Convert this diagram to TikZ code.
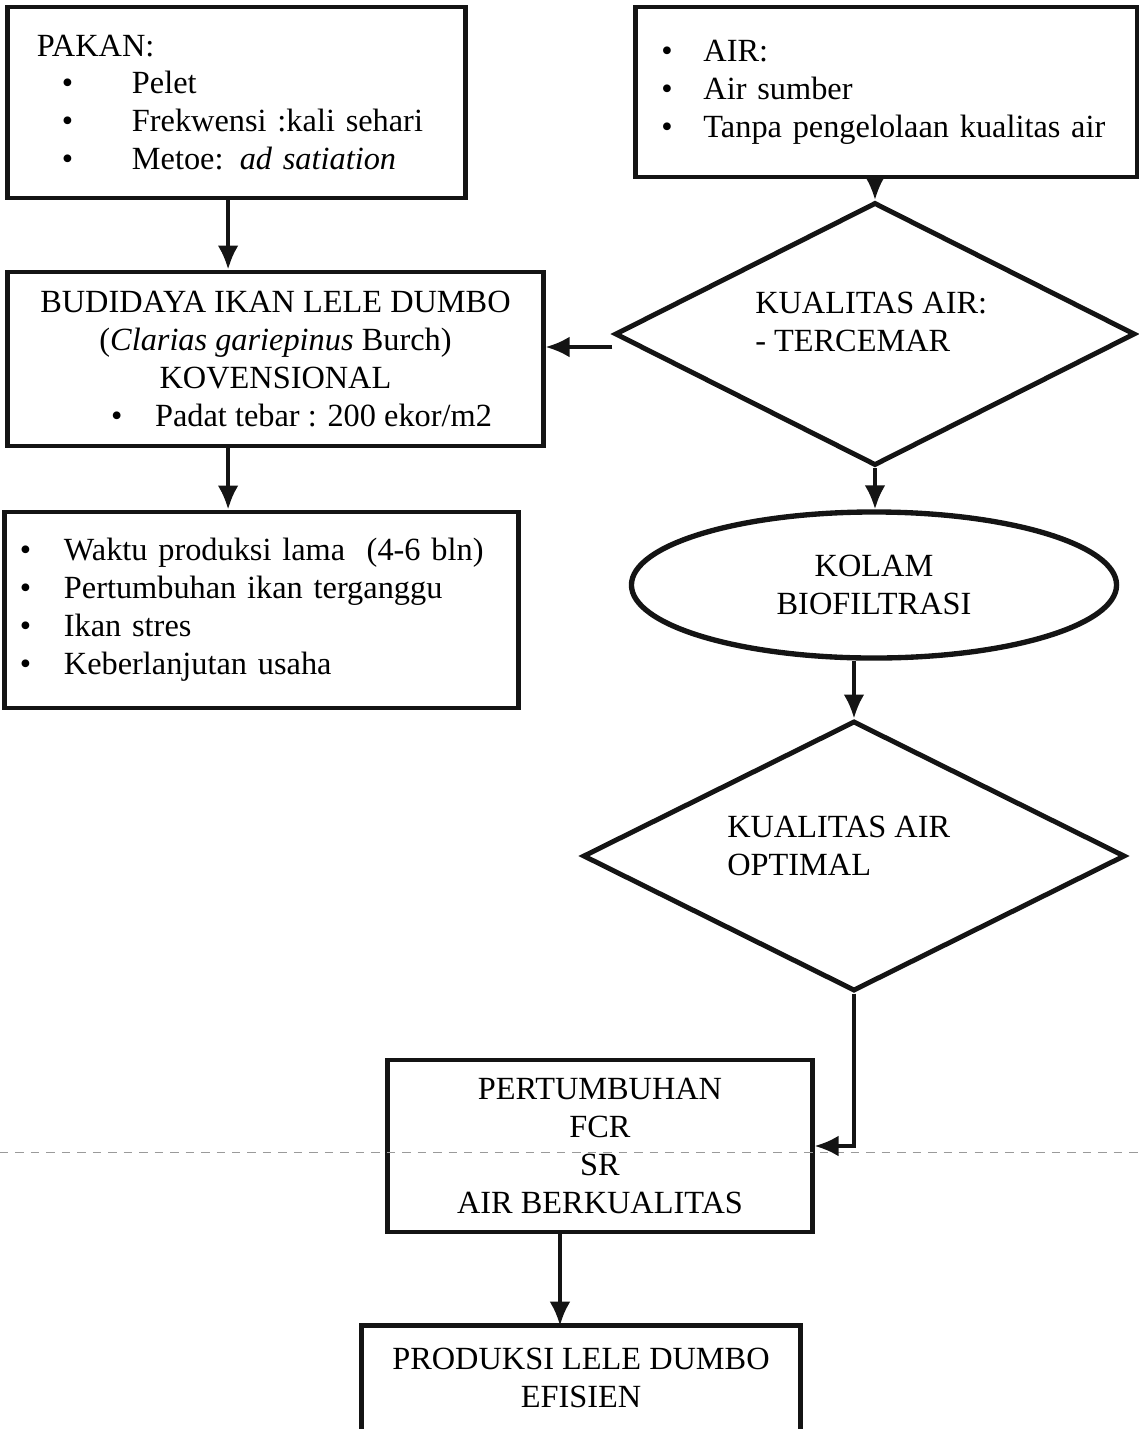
\documentclass[tikz,border=0pt]{standalone}
\usepackage{fontspec}
\setmainfont{Liberation Serif}
\usepackage{tikz}
\usepackage{xcolor}
\usetikzlibrary{positioning, shapes.geometric, arrows.meta, calc}
\definecolor{ink}{HTML}{141414}
\definecolor{scan}{HTML}{9a9a9a}

\tikzset{
  box/.style={rectangle, draw=ink, line width=3.5pt},
  decision/.style={diamond, draw=ink, line width=3.5pt},
  arr/.style={-{Latex[length=6mm, width=5.2mm]}, line width=2.6pt, draw=ink},
}

\begin{document}
\begin{tikzpicture}[x=0.025cm, y=-0.025cm, font=\fontsize{23}{27}\selectfont]
  \useasboundingbox (0,0) rectangle (1139,1429);

  \node[box, minimum width=11.425cm, minimum height=4.775cm, text width=9.975cm, align=left] (pakan) at (236.5,102.5) {PAKAN:\\\hspace*{0.625cm}\makebox[1.75cm][l]{\textbullet}Pelet\\\hspace*{0.625cm}\makebox[1.75cm][l]{\textbullet}Frekwensi :kali sehari\\\hspace*{0.625cm}\makebox[1.75cm][l]{\textbullet}Metoe: \textit{ad satiation}};
  \node[box, minimum width=12.525cm, minimum height=4.25cm, text width=11.25cm, align=left] (air) at (886.5,92) {\makebox[1.05cm][l]{\textbullet}AIR:\\\makebox[1.05cm][l]{\textbullet}Air sumber\\\makebox[1.05cm][l]{\textbullet}Tanpa pengelolaan kualitas air};

  \node[box, minimum width=13.375cm, minimum height=4.35cm, align=center] (budi) at (275.5,359) {BUDIDAYA IKAN LELE DUMBO\\(\textit{Clarias gariepinus} Burch)\\KOVENSIONAL\\\hspace*{1.3cm}\makebox[1.1cm][l]{\textbullet}Padat tebar : 200 ekor/m2};
  \node[box, minimum width=12.825cm, minimum height=4.9cm, text width=12.075cm, align=left] (eff) at (261.5,610) {\makebox[1.1cm][l]{\textbullet}Waktu produksi lama~~(4-6 bln)\\\makebox[1.1cm][l]{\textbullet}Pertumbuhan ikan terganggu\\\makebox[1.1cm][l]{\textbullet}Ikan stres\\\makebox[1.1cm][l]{\textbullet}Keberlanjutan usaha};

  \node[decision, minimum width=13cm, minimum height=6.575cm] (q1) at (875,334) {};
  \node[anchor=west, align=left, inner sep=0pt] (q1txt) at (755,321.5) {KUALITAS AIR:\\- TERCEMAR};

  \node[ellipse, draw=ink, line width=3.8pt, minimum width=12.125cm, minimum height=3.65cm, align=center] (pond) at (874,585) {KOLAM\\BIOFILTRASI};

  \node[decision, minimum width=13.55cm, minimum height=6.75cm] (q2) at (854,856) {};
  \node[anchor=west, align=left, inner sep=0pt] (q2txt) at (727,845.5) {KUALITAS AIR\\OPTIMAL};

  \node[box, minimum width=10.6cm, minimum height=4.3cm, align=center] (grow) at (600,1146) {PERTUMBUHAN\\FCR\\SR\\AIR BERKUALITAS};
  \node[minimum width=10.95cm, minimum height=2.575cm, align=center] (prod) at (581,1377.5) {PRODUKSI LELE DUMBO\\EFISIEN};
  \draw[line width=3.5pt, ink] (prod.south west) -- (prod.north west) -- (prod.north east) -- (prod.south east);

  % page break of the scan
  \draw[scan, line width=0.6pt, dash pattern=on 6pt off 5pt] (0,1152) -- (1139,1152);

  \draw[arr] ([xshift=-0.21cm]pakan.south) -- ([xshift=-0.21cm]pakan.south |- budi.north);
  \draw[arr] ([xshift=-0.21cm]pakan.south |- budi.south) -- ([xshift=-0.21cm]pakan.south |- eff.north);
  \draw[arr] (q1.north |- air.south) -- (q1.north);
  \draw[arr] ([yshift=-0.325cm]q1.west) -- ([yshift=-0.325cm]q1.west -| budi.east);
  \draw[arr] (q1.south) -- (q1.south |- pond.north);
  \draw[arr] ([xshift=-0.5cm]pond.south) -- ([xshift=-0.5cm]pond.south |- q2.north);
  \draw[arr] (q2.south) |- (grow.east);
  \draw[arr] ([xshift=-1cm]grow.south) -- ([xshift=-1cm]grow.south |- prod.north);
\end{tikzpicture}
\end{document}
